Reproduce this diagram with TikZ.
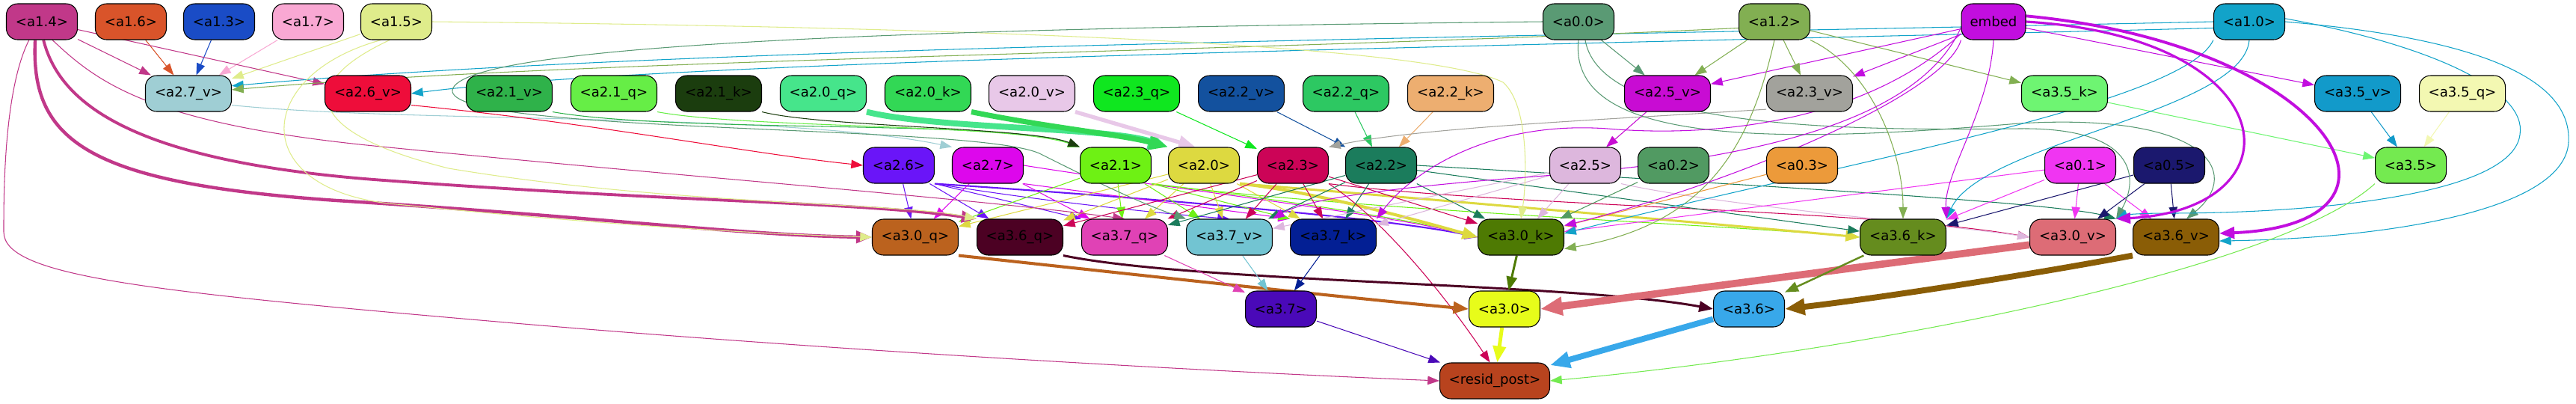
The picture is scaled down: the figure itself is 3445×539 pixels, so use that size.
\documentclass[tikz,border=0pt]{standalone}
\usepackage{fontspec}
\setmainfont{DejaVu Sans}
\usetikzlibrary{arrows.meta,backgrounds}
\definecolor{c14}{HTML}{C13889}\definecolor{c16}{HTML}{D9542A}\definecolor{c13}{HTML}{1A4CC6}
\definecolor{c17}{HTML}{F9A8D3}\definecolor{c15}{HTML}{DFEC8B}\definecolor{c00}{HTML}{5A9A74}
\definecolor{c12}{HTML}{82AF52}\definecolor{cemb}{HTML}{C20EDF}\definecolor{c10}{HTML}{12A3C9}
\definecolor{cv27}{HTML}{9FCED4}\definecolor{cv26}{HTML}{EE0D3A}\definecolor{cv21}{HTML}{2FB24A}
\definecolor{cq21}{HTML}{66EE46}\definecolor{ck21}{HTML}{1B3D0E}\definecolor{cq20}{HTML}{46E58B}
\definecolor{ck20}{HTML}{32D855}\definecolor{cv20}{HTML}{E8C8E8}\definecolor{cq23}{HTML}{0FE71F}
\definecolor{cv22}{HTML}{13519E}\definecolor{cq22}{HTML}{2DC862}\definecolor{ck22}{HTML}{EDAE70}
\definecolor{cv25}{HTML}{C80CD3}\definecolor{cv23}{HTML}{A2A29C}\definecolor{ck35}{HTML}{6EF572}
\definecolor{cv35}{HTML}{129ACA}\definecolor{cq35}{HTML}{F3F8B2}
\definecolor{c26}{HTML}{6A15F8}\definecolor{c27}{HTML}{DD07EC}\definecolor{c21}{HTML}{6EF114}
\definecolor{c20}{HTML}{DDD940}\definecolor{c23}{HTML}{CC0457}\definecolor{c22}{HTML}{1B7C5C}
\definecolor{c25}{HTML}{DDB7DD}\definecolor{c02}{HTML}{519A62}\definecolor{c03}{HTML}{EC9A3A}
\definecolor{c01}{HTML}{F035F2}\definecolor{c05}{HTML}{1B186E}\definecolor{c35}{HTML}{74EA50}
\definecolor{cq30}{HTML}{BB621E}\definecolor{cq36}{HTML}{4C0123}\definecolor{cq37}{HTML}{E042B5}
\definecolor{cv37}{HTML}{72C4D2}\definecolor{ck37}{HTML}{031F94}\definecolor{ck30}{HTML}{4E7A03}
\definecolor{ck36}{HTML}{658C1E}\definecolor{cv30}{HTML}{DD6C76}\definecolor{cv36}{HTML}{8A5D06}
\definecolor{c37}{HTML}{4A09B8}\definecolor{c30}{HTML}{E7FC1A}\definecolor{c36}{HTML}{38A8EA}
\definecolor{cres}{HTML}{B8431E}
\begin{document}
\begin{tikzpicture}[x=0.02cm,y=-0.02cm,
 box/.style={draw=black, line width=0.6pt, rounded corners=0.3cm, minimum height=0.96cm, minimum width=1.9cm, inner sep=0pt, font=\fontsize{10.3}{12}\selectfont, text=black},
 wbox/.style={box, minimum width=2.3cm},
 ed/.style={line width=#1, -{Triangle[length=0.28cm 1.6, width=0.2cm 1.4]}},
 ed/.default=0.6pt]
\useasboundingbox (0,0) rectangle (3445,539);
% row 1
\node[box,fill=c14] (n14) at (56,29) {<a1.4>};
\node[box,fill=c16] (n16) at (175,29) {<a1.6>};
\node[box,fill=c13] (n13) at (293,29) {<a1.3>};
\node[box,fill=c17] (n17) at (412,29) {<a1.7>};
\node[box,fill=c15] (n15) at (530,29) {<a1.5>};
\node[box,fill=c00] (n00) at (2111,29) {<a0.0>};
\node[box,fill=c12] (n12) at (2373,29) {<a1.2>};
\node[box,fill=cemb,minimum width=1.72cm] (emb) at (2666,29) {embed};
\node[box,fill=c10] (n10) at (3008,29) {<a1.0>};
% row 2
\node[wbox,fill=cv27] (v27) at (252,125) {<a2.7\_v>};
\node[wbox,fill=cv26] (v26) at (492,125) {<a2.6\_v>};
\node[wbox,fill=cv21] (v21) at (681,125) {<a2.1\_v>};
\node[wbox,fill=cq21] (q21) at (821,125) {<a2.1\_q>};
\node[wbox,fill=ck21] (k21) at (961,125) {<a2.1\_k>};
\node[wbox,fill=cq20] (q20) at (1101,125) {<a2.0\_q>};
\node[wbox,fill=ck20] (k20) at (1241,125) {<a2.0\_k>};
\node[wbox,fill=cv20] (v20) at (1380,125) {<a2.0\_v>};
\node[wbox,fill=cq23] (q23) at (1520,125) {<a2.3\_q>};
\node[wbox,fill=cv22] (v22) at (1660,125) {<a2.2\_v>};
\node[wbox,fill=cq22] (q22) at (1800,125) {<a2.2\_q>};
\node[wbox,fill=ck22] (k22) at (1940,125) {<a2.2\_k>};
\node[wbox,fill=cv25] (v25) at (2230,125) {<a2.5\_v>};
\node[wbox,fill=cv23] (v23) at (2420,125) {<a2.3\_v>};
\node[wbox,fill=ck35] (k35) at (2761,125) {<a3.5\_k>};
\node[wbox,fill=cv35] (v35) at (3153,125) {<a3.5\_v>};
\node[wbox,fill=cq35] (q35) at (3293,125) {<a3.5\_q>};
% row 3
\node[box,fill=c26] (n26) at (1202,221) {<a2.6>};
\node[box,fill=c27] (n27) at (1321,221) {<a2.7>};
\node[box,fill=c21] (n21) at (1492,221) {<a2.1>};
\node[box,fill=c20] (n20) at (1610,221) {<a2.0>};
\node[box,fill=c23] (n23) at (1729,221) {<a2.3>};
\node[box,fill=c22] (n22) at (1847,221) {<a2.2>};
\node[box,fill=c25] (n25) at (2120,221) {<a2.5>};
\node[box,fill=c02] (n02) at (2238,221) {<a0.2>};
\node[box,fill=c03] (n03) at (2410,221) {<a0.3>};
\node[box,fill=c01] (n01) at (2782,221) {<a0.1>};
\node[box,fill=c05] (n05) at (2901,221) {<a0.5>};
\node[box,fill=c35] (n35) at (3224,221) {<a3.5>};
% row 4
\node[wbox,fill=cq30] (q30) at (1224,317) {<a3.0\_q>};
\node[wbox,fill=cq36] (q36) at (1364,317) {<a3.6\_q>};
\node[wbox,fill=cq37] (q37) at (1504,317) {<a3.7\_q>};
\node[wbox,fill=cv37] (v37) at (1644,317) {<a3.7\_v>};
\node[wbox,fill=ck37] (k37) at (1783,317) {<a3.7\_k>};
\node[wbox,fill=ck30] (k30) at (2034,317) {<a3.0\_k>};
\node[wbox,fill=ck36] (k36) at (2545,317) {<a3.6\_k>};
\node[wbox,fill=cv30] (v30) at (2772,317) {<a3.0\_v>};
\node[wbox,fill=cv36] (v36) at (2910,317) {<a3.6\_v>};
% row 5
\node[box,fill=c37] (n37) at (1713,413) {<a3.7>};
\node[box,fill=c30] (n30) at (2012,413) {<a3.0>};
\node[box,fill=c36] (n36) at (2339,413) {<a3.6>};
% row 6
\node[box,fill=cres,minimum width=2.94cm] (res) at (1999,509) {<resid\_post>};

\begin{scope}[on background layer]
\fill[white] (0,0) rectangle (3445,539);
% row1 -> row2
\draw[ed,c14] (n14) -- (v27);
\draw[ed,c16] (n16) -- (v27);
\draw[ed,c13] (n13) -- (v27);
\draw[ed,c17] (n17) -- (v27);
\draw[ed,c15] (n15) -- (v27);
\draw[ed,c14] (n14) -- (v26);
\draw[ed,c10] (n10.west) .. controls (2000,50) and (900,62) .. (v27.10);
\draw[ed,c10] (n10.190) .. controls (2000,62) and (900,80) .. (v26.east);
\draw[ed,c12] (n12.190) .. controls (1600,72) and (800,78) .. (v27.5);
% row2 -> row3
\draw[ed,cv27] (v27.345) .. controls (550,165) and (1050,150) .. (n27.north west);
\draw[ed,cv26] (v26.345) .. controls (800,165) and (1000,205) .. (n26.west);
\draw[ed,cv21] (v21.south east) .. controls (900,178) and (1350,160) .. (n21.north west);
\draw[ed,cq21] (q21.south east) .. controls (1000,172) and (1350,165) .. (n21.north west);
\draw[ed,ck21] (k21.south east) .. controls (1100,170) and (1380,170) .. (n21.north west);
\draw[ed=4.5pt,cq20] (q20.south east) .. controls (1250,172) and (1480,170) .. (n20.north west);
\draw[ed=4pt,ck20] (k20.south east) .. controls (1400,170) and (1500,180) .. (n20.north west);
\draw[ed=3pt,cv20] (v20.south east) -- (n20.115);
\draw[ed,cq23] (q23) -- (n23);
\draw[ed,cv22] (v22) -- (n22);
\draw[ed,cq22] (q22) -- (n22);
\draw[ed,ck22] (k22) -- (n22);
\draw[ed,cv23] (v23.200) .. controls (2150,160) and (1900,170) .. (n23.north east);
\draw[ed,cv25] (v25) -- (n25);
\draw[ed,ck35] (k35) -- (n35);
\draw[ed,cv35] (v35) -- (n35);
\draw[ed,cq35] (q35) -- (n35);
\draw[ed,c00] (n00) -- (v25);
\draw[ed,c12] (n12) -- (v25);
\draw[ed,cemb] (emb) -- (v25);
\draw[ed,c12] (n12) -- (v23);
\draw[ed,cemb] (emb) -- (v23);
\draw[ed,c12] (n12) -- (k35);
\draw[ed,cemb] (emb) -- (v35);
% row3 -> row4
\draw[ed,c26] (n26) -- (q30);
\draw[ed,c26] (n26) -- (q36);
\draw[ed,c26] (n26.south east) -- (q37.north west);
\draw[ed,c26] (n26.south east) .. controls (1400,270) and (1550,285) .. (v37.north);
\draw[ed=1.2pt,c26] (n26.south east) .. controls (1500,262) and (1850,290) .. (k30.west);
\draw[ed,c27] (n27) -- (q30);
\draw[ed,c27] (n27) -- (q37);
\draw[ed,c27] (n27.south east) -- (k37.north west);
\draw[ed,c27] (n27.east) .. controls (1550,250) and (1850,285) .. (k30.west);
\draw[ed,c21] (n21) -- (q30);
\draw[ed,c21] (n21) -- (q37);
\draw[ed,c21] (n21) -- (v37);
\draw[ed,c21] (n21.south east) -- (k37.north west);
\draw[ed,c21] (n21.south east) .. controls (1700,265) and (1900,295) .. (k30.west);
\draw[ed,c21] (n21.south east) .. controls (1800,280) and (2300,300) .. (k36.west);
\draw[ed,c20] (n20) -- (q30);
\draw[ed,c20] (n20) -- (q36);
\draw[ed,c20] (n20) -- (q37);
\draw[ed,c20] (n20) -- (v37);
\draw[ed,c20] (n20) -- (k37);
\draw[ed=2.3pt,c20] (n20.south east) .. controls (1750,255) and (1880,290) .. (k30.west);
\draw[ed=1.7pt,c20] (n20.south east) .. controls (1900,265) and (2300,300) .. (k36.west);
\draw[ed,c23] (n23) -- (q36);
\draw[ed,c23] (n23) -- (q37);
\draw[ed,c23] (n23) -- (v37);
\draw[ed,c23] (n23) -- (k37);
\draw[ed,c23] (n23) -- (k30);
\draw[ed,c23] (n23.south east) .. controls (2000,275) and (2500,280) .. (v30.west);
\draw[ed,c23] (n23.south east) .. controls (1860,300) and (1950,420) .. (res.105);
\draw[ed,c22] (n22) -- (q37);
\draw[ed,c22] (n22) -- (v37);
\draw[ed,c22] (n22) -- (k37);
\draw[ed,c22] (n22) -- (k30);
\draw[ed,c22] (n22) -- (k36);
\draw[ed,c22] (n22.east) .. controls (2300,245) and (2750,270) .. (v30.north east);
\draw[ed,c25] (n25) -- (v37);
\draw[ed,c25] (n25) -- (k37);
\draw[ed,c25] (n25) -- (k30);
\draw[ed,c25] (n25.south east) .. controls (2300,275) and (2600,300) .. (v30.west);
\draw[ed,c02] (n02) -- (k30);
\draw[ed,c03] (n03) -- (k30);
\draw[ed,c01] (n01) -- (k30);
\draw[ed,c01] (n01) -- (k36);
\draw[ed,c01] (n01) -- (v30);
\draw[ed,c01] (n01) -- (v36);
\draw[ed,c05] (n05) -- (k36);
\draw[ed,c05] (n05) -- (v30);
\draw[ed,c05] (n05) -- (v36);
% long edges from the top row
\draw[ed=2.5pt,c14] (n14.250) .. controls (40,190) and (120,245) .. (450,268) .. controls (800,290) and (1000,315) .. (q30.west);
\draw[ed=2.2pt,c14] (n14.275) .. controls (80,140) and (180,215) .. (500,240) .. controls (900,270) and (1150,270) .. (q36.north west);
\draw[ed,c14] (n14.300) .. controls (130,110) and (200,165) .. (500,195) .. controls (900,235) and (1300,265) .. (q37.north);
\draw[ed,c14] (n14.235) .. controls (5,120) and (5,260) .. (5,310) .. controls (5,370) and (200,390) .. (700,433) .. controls (1200,475) and (1700,500) .. (res.west);
\draw[ed,c15] (n15.230) .. controls (340,100) and (330,250) .. (520,272) .. controls (800,300) and (1000,312) .. (q30.west);
\draw[ed,c15] (n15.250) .. controls (400,110) and (400,175) .. (600,225) .. controls (900,275) and (1200,270) .. (q36.north west);
\draw[ed,c15] (n15.east) .. controls (1200,35) and (1900,55) .. (2010,110) .. controls (2045,140) and (2042,240) .. (k30.north);
\draw[ed,c00] (n00.south) .. controls (2095,200) and (2400,190) .. (2700,165) .. controls (2950,150) and (3000,230) .. (v36.60);
\draw[ed,c00] (n00.290) .. controls (2140,170) and (2450,175) .. (2700,172) .. controls (2860,170) and (2860,240) .. (v30.north east);
\draw[ed,c00] (n00.west) .. controls (1200,38) and (620,60) .. (605,120) .. controls (595,180) and (1300,165) .. (1390,205) .. controls (1450,235) and (1520,270) .. (v37.north west);
\draw[ed,c12] (n12.south) .. controls (2340,200) and (2280,300) .. (k30.-15);
\draw[ed,c12] (n12.south east) .. controls (2500,90) and (2545,200) .. (k36.north);
\draw[ed,c10] (n10.south west) .. controls (2920,140) and (2450,220) .. (k30.5);
\draw[ed,c10] (n10.south) .. controls (3000,150) and (2650,190) .. (k36.north east);
\draw[ed,c10] (n10.east) .. controls (3300,50) and (3440,100) .. (3435,190) .. controls (3430,280) and (3200,318) .. (v36.-5);
\draw[ed,c10] (n10.5) .. controls (3250,60) and (3380,120) .. (3370,180) .. controls (3360,260) and (3100,285) .. (2900,285) .. controls (2850,285) and (2840,288) .. (v30.north east);
\draw[ed=1.8pt,cemb] (emb.east) .. controls (3060,50) and (3080,280) .. (v30.north east);
\draw[ed=2.2pt,cemb] (emb.10) .. controls (3120,60) and (3260,300) .. (v36.5);
\draw[ed,cemb] (emb.south west) .. controls (2600,130) and (2300,250) .. (k30.15);
\draw[ed,cemb] (emb.south) .. controls (2660,150) and (2600,230) .. (k36.north east);
\draw[ed,cemb] (emb.200) .. controls (2500,160) and (2300,185) .. (2150,172) .. controls (1980,160) and (1880,240) .. (k37.north east);
\draw[ed,cemb] (emb.190) .. controls (2550,200) and (2200,225) .. (2000,240) .. controls (1820,255) and (1740,270) .. (v37.north east);
\draw[ed,c35] (n35.south west) .. controls (3050,360) and (2500,470) .. (res.east);
% row4 -> row5
\draw[ed=2.3pt,cq30] (q30.south east) .. controls (1500,365) and (1800,398) .. (n30.west);
\draw[ed=1.7pt,cq36] (q36.south east) .. controls (1600,378) and (2100,378) .. (n36.west);
\draw[ed,cq37] (q37) -- (n37);
\draw[ed,cv37] (v37) -- (n37);
\draw[ed,ck37] (k37) -- (n37);
\draw[ed=1.7pt,ck30] (k30) -- (n30);
\draw[ed=5.5pt,cv30] (v30.190) -- (n30.east);
\draw[ed=1.4pt,ck36] (k36) -- (n36);
\draw[ed=4.5pt,cv36] (v36.south west) .. controls (2700,370) and (2500,400) .. (n36.east);
% row5 -> resid
\draw[ed=2.8pt,c30] (n30) -- (res);
\draw[ed=4.5pt,c36] (n36) -- (res);
\draw[ed,c37] (n37) -- (res);
\end{scope}
\end{tikzpicture}
\end{document}
